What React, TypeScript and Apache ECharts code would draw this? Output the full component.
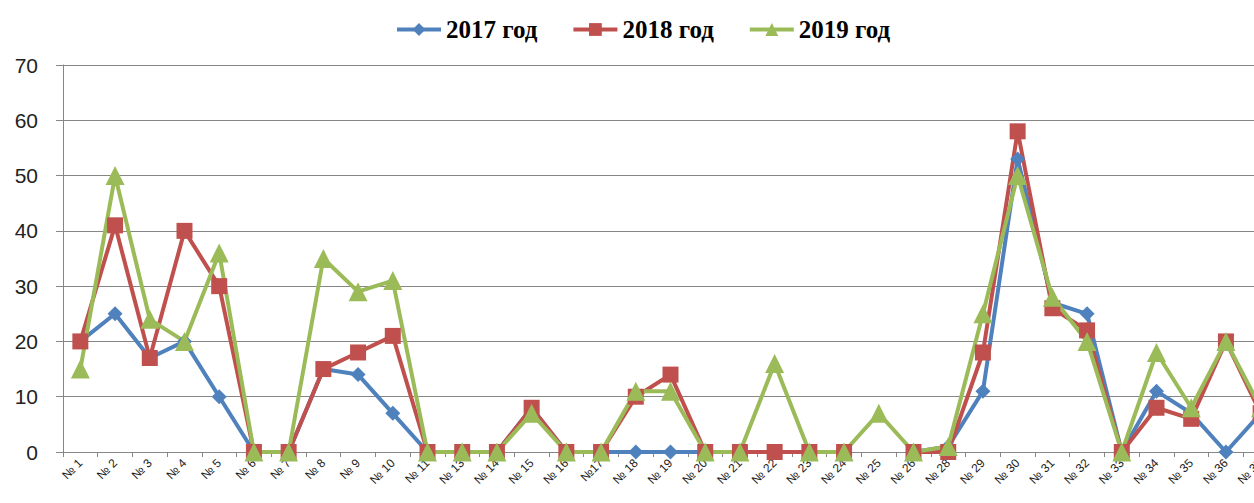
import React, { useEffect, useRef } from "react";
import * as echarts from "echarts";

const categories = ["№ 1","№ 2","№ 3","№ 4","№ 5","№ 6","№ 7","№ 8","№ 9","№ 10","№ 11","№ 13","№ 14","№ 15","№ 16","№17","№ 18","№ 19","№ 20","№ 21","№ 22","№ 23","№ 24","№ 25","№ 26","№ 28","№ 29","№ 30","№ 31","№ 32","№ 33","№ 34","№ 35","№ 36","№ 37"];

const values2017 = [20,25,17,20,10,0,0,15,14,7,0,0,0,8,0,0,0,0,0,0,0,0,0,null,0,1,11,53,27,25,0,11,7,0,7];
const values2018 = [20,41,17,40,30,0,0,15,18,21,0,0,0,8,0,0,10,14,0,0,0,0,0,null,0,0,18,58,26,22,0,8,6,20,7];
const values2019 = [15,50,24,20,36,0,0,35,29,31,0,0,0,7,0,0,11,11,0,0,16,0,0,7,0,1,25,50,28,20,0,18,8,20,8];

const seriesNames = ["2017 год", "2018 год", "2019 год"];
const yTicks = { min: 0, max: 70, interval: 10 };

export default function App() {
  const ref = useRef<HTMLDivElement>(null);
  useEffect(() => {
    if (!ref.current) return;
    const chart = echarts.init(ref.current, null, { renderer: "svg" });
    const mk = (name: string, data: (number | null)[], color: string, symbol: string, size: number) => ({
      name,
      type: "line",
      data,
      symbol,
      symbolSize: size,
      connectNulls: false,
      lineStyle: { color, width: 4 },
      itemStyle: { color },
    });
    chart.setOption({
      animation: false,
      backgroundColor: "#ffffff",
      legend: {
        left: 390,
        top: 12,
        itemWidth: 44,
        itemHeight: 16,
        itemGap: 34,
        lineStyle: { width: 4 },
        textStyle: { fontFamily: "Liberation Serif", fontWeight: "bold", fontSize: 25, color: "#000" },
        data: seriesNames,
      },
      grid: { left: 63, right: 22, top: 65, bottom: 51, containLabel: false },
      xAxis: {
        type: "category",
        data: categories,
        boundaryGap: true,
        axisLine: { lineStyle: { color: "#868686", width: 1 } },
        axisTick: { show: true, length: 5, lineStyle: { color: "#868686" } },
        axisLabel: { rotate: 45, fontSize: 12, fontFamily: "Liberation Sans", color: "#222", margin: 9, interval: 0 },
      },
      yAxis: {
        type: "value",
        min: yTicks.min,
        max: yTicks.max,
        interval: yTicks.interval,
        axisLine: { show: true, lineStyle: { color: "#868686", width: 1 } },
        axisTick: { show: true, length: 7, lineStyle: { color: "#868686" } },
        axisLabel: { fontSize: 21, fontFamily: "Liberation Sans", color: "#222", margin: 25 },
        splitLine: { lineStyle: { color: "#868686", width: 1 } },
      },
      series: [
        mk(seriesNames[0], values2017, "#4F81BD", "diamond", 15),
        mk(seriesNames[1], values2018, "#C0504D", "rect", 16),
        mk(seriesNames[2], values2019, "#9BBB59", "triangle", 19),
      ],
    });
    return () => chart.dispose();
  }, []);
  return (
    <div style={{ position: "fixed", left: 0, top: 0, width: 1254, height: 503, overflow: "hidden", background: "#fff" }}>
      <div ref={ref} style={{ width: 1300, height: 503 }} />
    </div>
  );
}
